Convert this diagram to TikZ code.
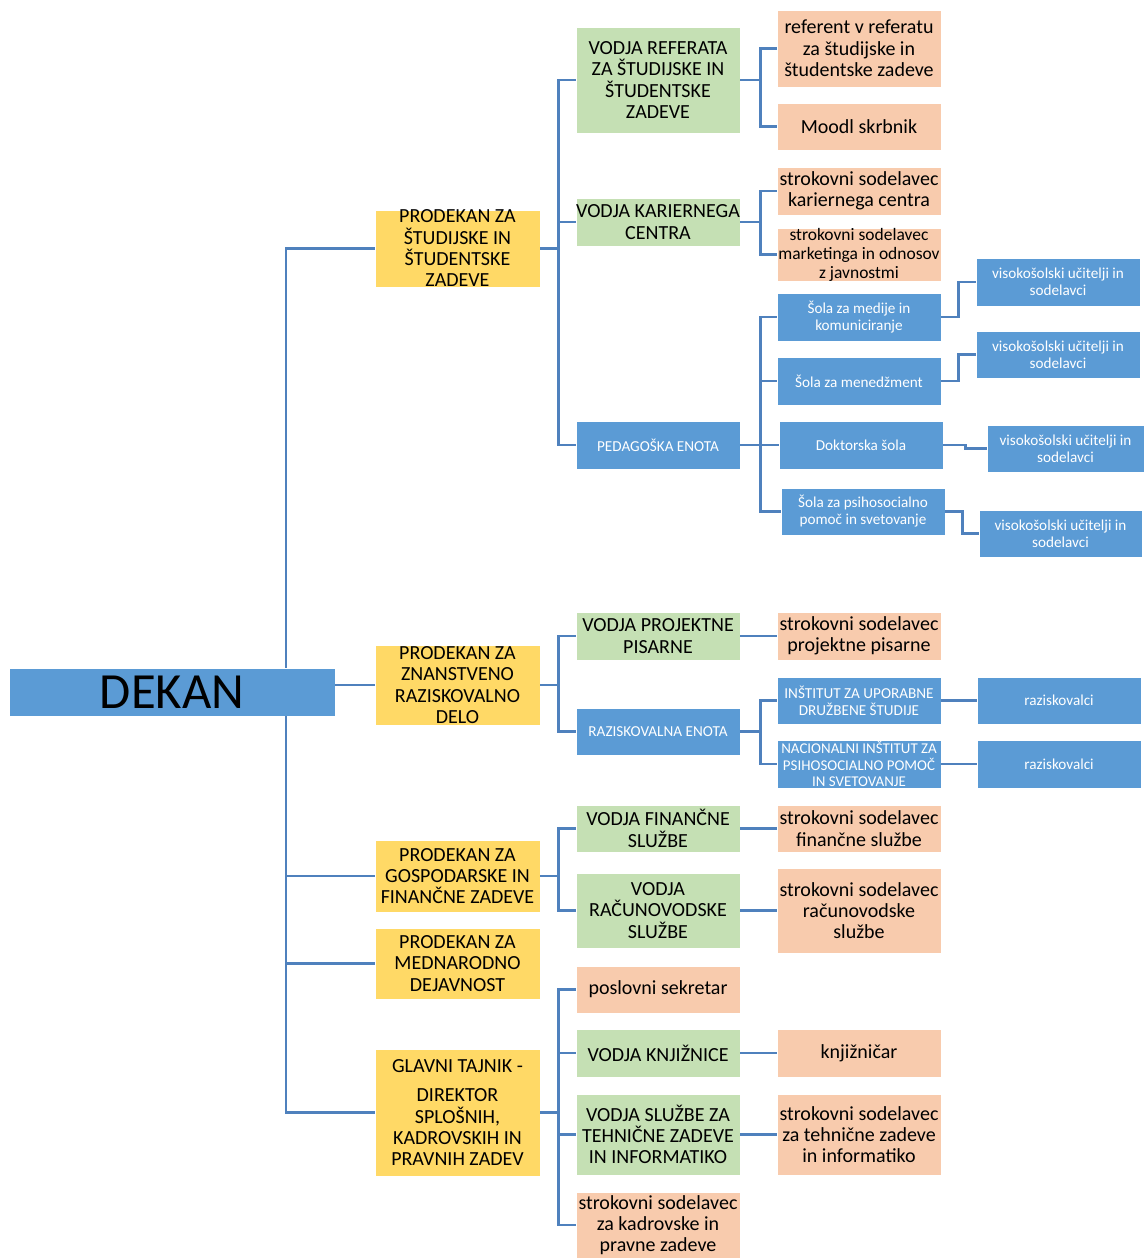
\documentclass[tikz,border=0pt]{standalone}
\usepackage{fontspec}
\setmainfont{Carlito}
\definecolor{bluebox}{HTML}{5B9BD5}
\definecolor{yellowbox}{HTML}{FFD966}
\definecolor{greenbox}{HTML}{C5E0B4}
\definecolor{orangebox}{HTML}{F8CBAD}
\definecolor{linkblue}{HTML}{4F81BD}
\begin{document}
\begin{tikzpicture}[x=0.75pt,y=-0.75pt]
\begin{scope}

\tikzstyle{yellownode} = [fill=yellowbox,draw=white,thin,minimum width=123.75pt,inner sep=0pt,align=center,font=\fontsize{15}{16}\selectfont];
\tikzstyle{greennode} = [fill=greenbox,draw=white,thin,minimum width=123pt,inner sep=0pt,align=center,font=\fontsize{15}{16}\selectfont];
\tikzstyle{orangenode} = [fill=orangebox,draw=white,thin,minimum width=123pt,inner sep=0pt,align=center,font=\fontsize{15}{16}\selectfont];
\tikzstyle{bluenode} = [fill=bluebox,draw=white,thin,minimum width=123pt,inner sep=0pt,align=center,text=white,font=\fontsize{11.4}{12.75}\selectfont];
\tikzstyle{link} = [draw=linkblue,line width=2pt];

\useasboundingbox (0,0) rectangle (1144,1258);

\node [bluenode,minimum width=244.5pt,minimum height=36pt,text=black,font=\fontsize{38}{40}\selectfont] (d) at (172,692) {DEKAN};
\coordinate (t) at (286,692);

\node [yellownode,minimum height=57.75pt] (p1) at (457.5,248.5) {PRODEKAN ZA\\ŠTUDIJSKE IN\\ŠTUDENTSKE\\ZADEVE};
\node [yellownode,minimum height=60pt] (p2) at (457.5,685) {PRODEKAN ZA\\ZNANSTVENO\\RAZISKOVALNO\\DELO};
\node [yellownode,minimum height=54pt] (p3) at (457.5,876) {PRODEKAN ZA\\GOSPODARSKE IN\\FINANČNE ZADEVE};
\node [yellownode,minimum height=53.25pt] (p4) at (457.5,963.5) {PRODEKAN ZA\\MEDNARODNO\\DEJAVNOST};
\node [yellownode,minimum height=95.25pt] (p5) at (457.5,1112.5) {GLAVNI TAJNIK -\\[6pt]DIREKTOR\\SPLOŠNIH,\\KADROVSKIH IN\\PRAVNIH ZADEV};

\node [greennode,minimum height=79.5pt] (g1) at (658,80) {VODJA REFERATA\\ZA ŠTUDIJSKE IN\\ŠTUDENTSKE\\ZADEVE};
\node [greennode,minimum height=36pt] (g2) at (658,222) {VODJA KARIERNEGA\\CENTRA};
\node [bluenode,minimum height=36pt] (pe) at (658,445) {PEDAGOŠKA ENOTA};

\node [orangenode,minimum height=57.75pt] (o1) at (859,48.5) {referent v referatu\\za študijske in\\študentske zadeve};
\node [orangenode,minimum height=35.25pt] (o2) at (859,126.5) {Moodl skrbnik};
\node [orangenode,minimum height=36pt] (o3) at (859,191) {strokovni sodelavec\\kariernega centra};
\node [orangenode,minimum height=36.75pt,font=\fontsize{13.1}{14.25}\selectfont] (o4) at (859,254.5) {strokovni sodelavec\\marketinga in odnosov\\z javnostmi};

\node [bluenode,minimum height=36pt] (m1) at (859,317) {Šola za medije in\\komuniciranje};
\node [bluenode,minimum height=36pt] (m2) at (859,381) {Šola za menedžment};
\node [bluenode,minimum height=36pt] (m3) at (861,445) {Doktorska šola};
\node [bluenode,minimum height=35.25pt] (m4) at (863,511.5) {Šola za psihosocialno\\pomoč in svetovanje};

\node [bluenode,minimum height=36pt] (v1) at (1058,282) {visokošolski učitelji in\\sodelavci};
\node [bluenode,minimum height=35.25pt] (v2) at (1058,354.5) {visokošolski učitelji in\\sodelavci};
\node [bluenode,minimum height=35.25pt,minimum width=117.75pt] (v3) at (1065.5,448.5) {visokošolski učitelji in\\sodelavci};
\node [bluenode,minimum height=35.25pt,minimum width=122.25pt] (v4) at (1060.5,533.5) {visokošolski učitelji in\\sodelavci};

\node [greennode,minimum height=36pt] (g3) at (658,636) {VODJA PROJEKTNE\\PISARNE};
\node [orangenode,minimum height=36pt] (o5) at (859,636) {strokovni sodelavec\\projektne pisarne};
\node [bluenode,minimum height=35.25pt] (re) at (658,731.5) {RAZISKOVALNA ENOTA};
\node [bluenode,minimum height=35.25pt] (i1) at (859,700.5) {INŠTITUT ZA UPORABNE\\DRUŽBENE ŠTUDIJE};
\node [bluenode,minimum height=36pt,font=\fontsize{11.2}{12.4}\selectfont] (i2) at (859,764) {NACIONALNI INŠTITUT ZA\\PSIHOSOCIALNO POMOČ\\IN SVETOVANJE};
\node [bluenode,minimum height=35.25pt] (r1) at (1059,700.5) {raziskovalci};
\node [bluenode,minimum height=36pt] (r2) at (1059,764) {raziskovalci};

\node [greennode,minimum height=35.25pt] (g4) at (658,828.5) {VODJA FINANČNE\\SLUŽBE};
\node [greennode,minimum height=56.25pt] (g5) at (658,910.5) {VODJA\\RAČUNOVODSKE\\SLUŽBE};
\node [orangenode,minimum height=35.25pt] (o6) at (859,828.5) {strokovni sodelavec\\finančne službe};
\node [orangenode,minimum height=63.75pt] (o7) at (859,910.5) {strokovni sodelavec\\računovodske\\službe};

\node [orangenode,minimum height=35.25pt] (o8) at (658,989.5) {poslovni sekretar};
\node [greennode,minimum height=36pt] (g6) at (658,1053) {VODJA KNJIŽNICE};
\node [greennode,minimum height=60.75pt] (g7) at (658,1134.5) {VODJA SLUŽBE ZA\\TEHNIČNE ZADEVE\\IN INFORMATIKO};
\node [orangenode,minimum height=49.5pt] (o9) at (658,1225) {strokovni sodelavec\\za kadrovske in\\pravne zadeve};
\node [orangenode,minimum height=36pt] (o10) at (859,1053) {knjižničar};
\node [orangenode,minimum height=60.75pt] (o11) at (859,1134.5) {strokovni sodelavec\\za tehnične zadeve\\in informatiko};

\draw [link] (d.north -| t) |- (p1.west);
\draw [link] (d.east |- p2.west) -- (p2.west);
\draw [link] (d.south -| t) |- (p3.west);
\draw [link] (d.south -| t) |- (p4.west);
\draw [link] (d.south -| t) |- (p5.west);

\draw [link] (p1.east) -- ++(18,0) |- (g1.west);
\draw [link] (p1.east) -- ++(18,0) |- (g2.west);
\draw [link] (p1.east) -- ++(18,0) |- (pe.west);
\draw [link] (g1.east) -- ++(20,0) |- (o1.west);
\draw [link] (g1.east) -- ++(20,0) |- (o2.west);
\draw [link] (g2.east) -- ++(20,0) |- (o3.west);
\draw [link] (g2.east) -- ++(20,0) |- (o4.west);
\draw [link] (pe.east) -- ++(20,0) |- (m1.west);
\draw [link] (pe.east) -- ++(20,0) |- (m2.west);
\draw [link] (pe.east) -- ++(20,0) |- (m3.west);
\draw [link] (pe.east) -- ++(20,0) |- (m4.west);
\draw [link] (m1.east) -- ++(17,0) |- (v1.west);
\draw [link] (m2.east) -- ++(17,0) |- (v2.west);
\draw [link] (m3.east) -- ++(22,0) |- (v3.west);
\draw [link] (m4.east) -- ++(17,0) |- (v4.west);

\draw [link] (p2.east) -- ++(18,0) |- (g3.west);
\draw [link] (p2.east) -- ++(18,0) |- (re.west);
\draw [link] (g3.east) -- (o5.west);
\draw [link] (re.east) -- ++(20,0) |- (i1.west);
\draw [link] (re.east) -- ++(20,0) |- (i2.west);
\draw [link] (i1.east) -- (r1.west);
\draw [link] (i2.east) -- (r2.west);

\draw [link] (p3.east) -- ++(18,0) |- (g4.west);
\draw [link] (p3.east) -- ++(18,0) |- (g5.west);
\draw [link] (g4.east) -- (o6.west);
\draw [link] (g5.east) -- (o7.west);

\draw [link] (p5.east) -- ++(18,0) |- (o8.west);
\draw [link] (p5.east) -- ++(18,0) |- (g6.west);
\draw [link] (p5.east) -- ++(18,0) |- (g7.west);
\draw [link] (p5.east) -- ++(18,0) |- (o9.west);
\draw [link] (g6.east) -- (o10.west);
\draw [link] (g7.east) -- (o11.west);

\end{scope}
\end{tikzpicture}
\end{document}
